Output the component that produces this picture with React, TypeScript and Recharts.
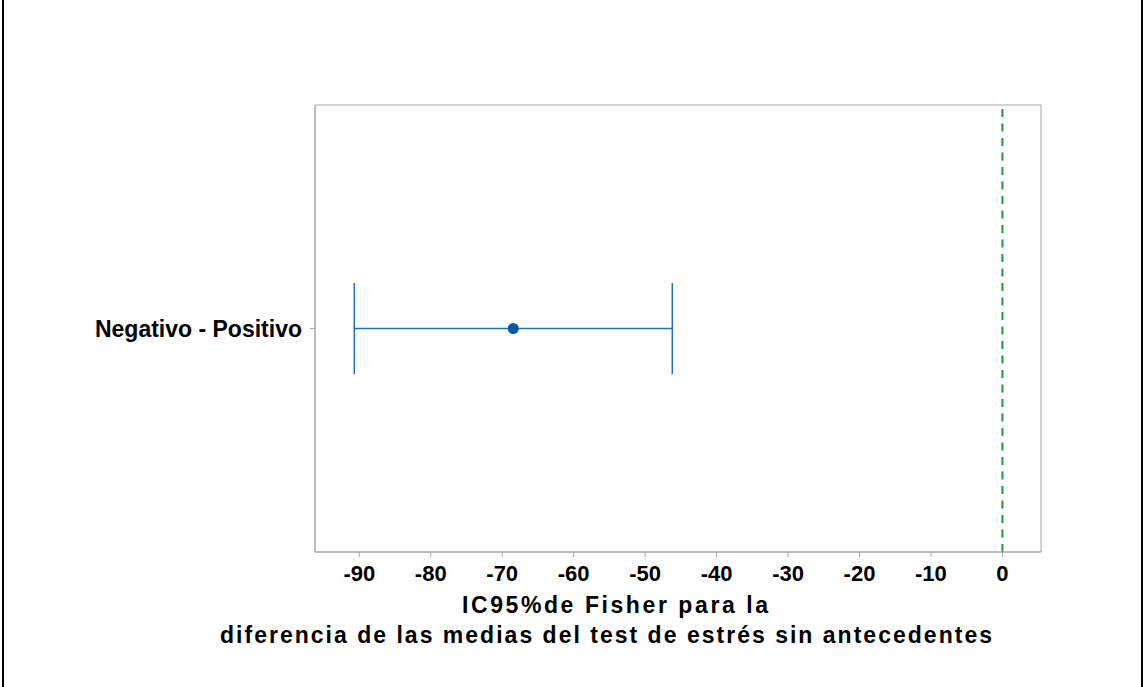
import {
  ComposedChart,
  XAxis,
  YAxis,
  Scatter,
  ErrorBar,
  ReferenceLine,
  ReferenceArea,
} from 'recharts'

// Fisher 95% interval for the difference of means
const groups = ['Negativo - Positivo']
const estimates = [-68.45]
const lowerBounds = [-90.7]
const upperBounds = [-46.2]

const xTicks = [-90, -80, -70, -60, -50, -40, -30, -20, -10, 0]
const xDomain: [number, number] = [-96.2, 5.4]

const titleLines = [
  'IC95%de Fisher para la',
  'diferencia de las medias del test de estrés sin antecedentes',
]

const rows = groups.map((name, i) => ({
  name,
  diff: estimates[i],
  err: [estimates[i] - lowerBounds[i], upperBounds[i] - estimates[i]],
}))

const FONT = '"Liberation Sans", Arial, sans-serif'
const FRAME = '#a6a6a6'

function AxisTitle(props: any) {
  const { viewBox } = props
  const x = viewBox?.x ?? 315
  const y = viewBox?.y ?? 552
  return (
    <g fontFamily={FONT} fontWeight="bold" fontSize={23} fill="#000">
      <text x={x + 300} y={y + 61} textAnchor="middle" textLength={306} lengthAdjust="spacing">
        {titleLines[0]}
      </text>
      <text x={x + 291} y={y + 91} textAnchor="middle" textLength={772} lengthAdjust="spacing">
        {titleLines[1]}
      </text>
    </g>
  )
}

function Dot(props: any) {
  return <circle cx={props.cx} cy={props.cy} r={5.5} fill="#0b57a8" />
}

export default function App() {
  return (
    <div style={{ position: 'relative', width: 1143, height: 687, background: '#fff' }}>
      <style>{'body{margin:0}'}</style>
      <div style={{ position: 'absolute', left: 2, top: 0, width: 2, height: 687, background: '#000' }} />
      <div style={{ position: 'absolute', left: 1141, top: 0, width: 2, height: 687, background: '#000' }} />
      <div style={{ position: 'absolute', left: 0, top: 0 }}>
        <ComposedChart
          width={1143}
          height={687}
          data={rows}
          layout="vertical"
          margin={{ top: 105, right: 102, bottom: 75, left: 0 }}
        >
          <ReferenceArea
            x1={xDomain[0]}
            x2={xDomain[1]}
            fill="none"
            stroke={FRAME}
            strokeWidth={1}
            ifOverflow="visible"
          />
          <XAxis
            type="number"
            dataKey="diff"
            domain={xDomain}
            ticks={xTicks}
            allowDataOverflow
            height={60}
            tickSize={5}
            tickMargin={8}
            stroke={FRAME}
            tick={{ fill: '#000', fontSize: 22, fontWeight: 'bold', fontFamily: FONT }}
            label={{ content: AxisTitle }}
          />
          <YAxis
            type="category"
            dataKey="name"
            width={315}
            tickSize={5}
            tickMargin={8}
            stroke={FRAME}
            tick={{ fill: '#000', fontSize: 23, fontWeight: 'bold', fontFamily: FONT }}
          />
          <ReferenceLine x={0} stroke="#1e9a3e" strokeWidth={2} strokeDasharray="8 6.5" />
          <Scatter dataKey="diff" shape={Dot} isAnimationActive={false}>
            <ErrorBar dataKey="err" direction="x" width={45.5} stroke="#1f6fbf" strokeWidth={1.5} />
          </Scatter>
        </ComposedChart>
      </div>
    </div>
  )
}
